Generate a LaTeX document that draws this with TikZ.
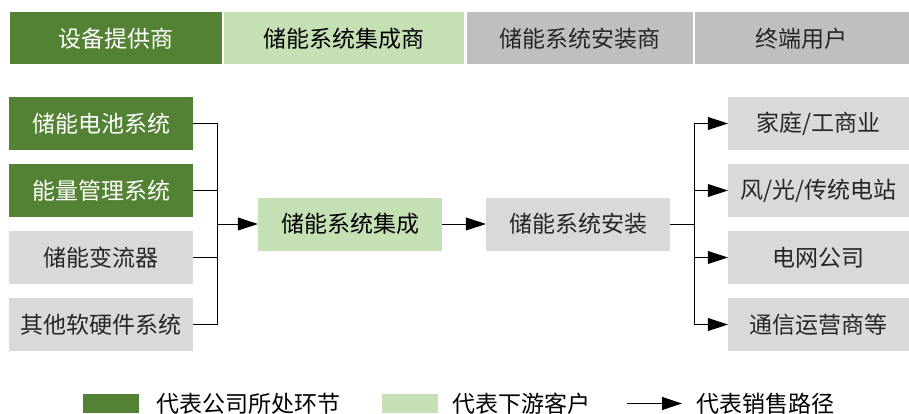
\documentclass[tikz,border=0pt]{standalone}
\usepackage{fontspec}
\setmainfont{Noto Sans CJK SC}
\usetikzlibrary{arrows.meta}
\definecolor{dkgreen}{HTML}{548235}
\definecolor{ltgreen}{HTML}{C5E0B4}
\definecolor{hdgray}{HTML}{BFBFBF}
\definecolor{bxgray}{HTML}{D9D9D9}
\begin{document}
\begin{tikzpicture}[>={Triangle[length=20pt,width=13pt]}, x=1pt, y=-1pt,
  every node/.style={inner sep=0pt, font=\fontsize{23}{23}\selectfont},
  cell/.style={minimum height=53pt, draw=white, line width=1pt},
  box/.style={minimum width=184pt, minimum height=53pt},
  dk/.style={fill=dkgreen, text=white},
  lt/.style={fill=ltgreen, text=black},
  gy/.style={fill=bxgray, text=black!85},
  hg/.style={fill=hdgray, text=black!85},
  link/.style={line width=1pt, black}]
\useasboundingbox (0,0) rectangle (909,414);

% header
\node[cell, dk, minimum width=213pt] (h1) at (115.5,38.5){设备提供商};
\node[cell, lt, minimum width=241pt] (h2) at (343.5,38.5){储能系统集成商};
\node[cell, hg, minimum width=227pt] (h3) at (579.5,38.5){储能系统安装商};
\node[cell, hg, minimum width=215pt] (h4) at (801.5,38.5){终端用户};

% suppliers
\node[box, dk] (l1) at (101,123.5){储能电池系统};
\node[box, dk] (l2) at (101,190.5){能量管理系统};
\node[box, gy] (l3) at (101,257.5){储能变流器};
\node[box, gy] (l4) at (101,324.5){其他软硬件系统};

\node[box, lt] (mid) at (350,224){储能系统集成};
\node[box, gy] (inst) at (578,224){储能系统安装};

% end users
\node[box, gy, minimum width=181pt] (r1) at (818.5,123.5){家庭/工商业};
\node[box, gy, minimum width=181pt] (r2) at (818.5,190.5){风/光/传统电站};
\node[box, gy, minimum width=181pt] (r3) at (818.5,257.5){电网公司};
\node[box, gy, minimum width=181pt] (r4) at (818.5,324.5){通信运营商等};

\coordinate (bl) at (217,224);
\coordinate (br) at (694,224);
\draw[link](l1.east)-|(bl);
\draw[link](l2.east)-|(bl);
\draw[link](l3.east)-|(bl);
\draw[link](l4.east)-|(bl);
\draw[link,->](bl)--(mid);
\draw[link,->](mid)--(inst);
\draw[link](inst)--(br);
\draw[link,->](br)|-(r1);
\draw[link,->](br)|-(r2);
\draw[link,->](br)|-(r3);
\draw[link,->](br)|-(r4);

% legend
\node[dk, minimum width=56pt, minimum height=19pt] (k1) at (111,403.5){};
\node[anchor=west] (t1) at (156,403.5){代表公司所处环节};
\node[lt, minimum width=56pt, minimum height=19pt] (k2) at (410,403.5){};
\node[anchor=west] (t2) at (452,403.5){代表下游客户};
\coordinate (la) at (627,403.5);
\coordinate (lb) at (682,403.5);
\draw[link,->](la)--(lb);
\node[anchor=west] (t3) at (696,403.5){代表销售路径};
\end{tikzpicture}
\end{document}
